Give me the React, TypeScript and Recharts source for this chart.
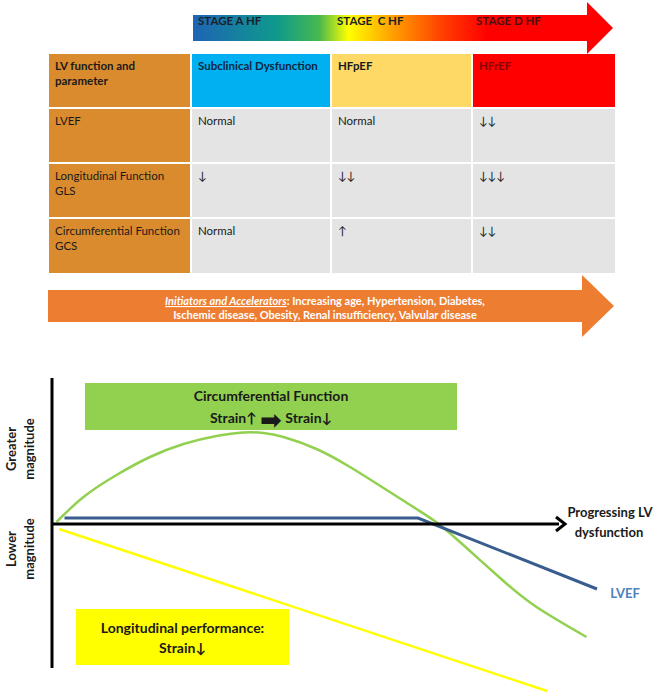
import { LineChart, Line, XAxis, YAxis, ReferenceLine, ReferenceArea, Label } from 'recharts';

// top stage arrow + table
const stageLabels = ['STAGE A HF', 'STAGE  C HF', 'STAGE D HF'];
const headerLines = [['LV function and', 'parameter'], ['Subclinical Dysfunction'], ['HFpEF'], ['HFrEF']];
const parameterLines = [['LVEF'], ['Longitudinal Function', 'GLS'], ['Circumferential Function', 'GCS']];
const stageValues = [
  ['Normal', 'Normal', '↓↓'],
  ['↓', '↓↓', '↓↓↓'],
  ['Normal', '↑', '↓↓'],
];
const initiatorTitle = 'Initiators and Accelerators';
const initiatorLines = [
  'Increasing age, Hypertension, Diabetes,',
  'Ischemic disease, Obesity, Renal insufficiency, Valvular disease',
];

// lower chart: x = progression of LV dysfunction, y = magnitude
const circX = [0.9, 6.3, 12.9, 19.6, 26.3, 32.9, 38.3, 42.3, 46.3, 52.9, 59.6, 66.3, 72.9, 77.6, 83.6, 90.3, 96.9, 106.9];
const circY = [2, 27, 49, 67, 80, 88, 91.5, 91, 87, 75, 57, 36, 15, -1, -27, -57, -83, -113];
const lvefX = [2.5, 73.2, 109];
const lvefY = [6, 6, -65];
const longX = [1.4, 99];
const longY = [-5, -167];

const toPoints = (xs: number[], ys: number[]) => xs.map((x, i) => ({ x, y: ys[i] }));

const FONT = "Lato, 'DejaVu Sans', sans-serif";
const colEdges = [48, 191, 331, 472, 616];
const rowEdges = [53, 108, 163, 218, 274];
const headerBg = ['#da8b2e', '#00b0f0', '#ffd966', '#ff0000'];
const headerColor = ['#1a1a1a', '#10243f', '#1a1a1a', '#8a0000'];

const XArrow = (props: any) => {
  const { x1, y1, x2, y2 } = props;
  return (
    <g>
      <line x1={x1} y1={y1} x2={x2 - 6} y2={y2} stroke="#000" strokeWidth={3} />
      <polyline points={`${x2 - 9},${y2 - 7} ${x2},${y2} ${x2 - 9},${y2 + 7}`} fill="none" stroke="#000" strokeWidth={3} />
    </g>
  );
};

const boxText = (lines: string[], size: number, gap: number) => (props: any) => {
  const { x, y, width, height } = props.viewBox;
  const cx = x + width / 2;
  const start = y + height / 2 - ((lines.length - 1) * gap) / 2;
  return (
    <text x={cx} textAnchor="middle" fontFamily={FONT} fontWeight="bold" fontSize={size} fill="#1a1a1a">
      {lines.map((l, i) => (
        <tspan key={i} x={cx} y={start + i * gap} dominantBaseline="central">
          {l.split('➡').map((part, j) =>
            j === 0 ? part : [<tspan key={j} fontSize={26} dy={1}>➡</tspan>, <tspan key={`p${j}`} fontSize={size} dy={-1}>{part}</tspan>]
          )}
        </tspan>
      ))}
    </text>
  );
};

function Table() {
  const cells: any[] = [];
  for (let r = 0; r < 4; r++) {
    for (let c = 0; c < 4; c++) {
      let lines: string[];
      let bg = '#e4e4e4';
      let color = '#1a1a1a';
      let bold = false;
      if (r === 0) {
        lines = headerLines[c];
        bg = headerBg[c];
        color = headerColor[c];
        bold = true;
      } else if (c === 0) {
        lines = parameterLines[r - 1];
        bg = '#da8b2e';
      } else {
        lines = [stageValues[r - 1][c - 1]];
      }
      cells.push(
        <div
          key={`${r}-${c}`}
          style={{
            position: 'absolute',
            left: colEdges[c] + 1,
            top: rowEdges[r] + 1,
            width: colEdges[c + 1] - colEdges[c] - 2,
            height: rowEdges[r + 1] - rowEdges[r] - 2,
            background: bg,
            color,
            fontWeight: bold ? 'bold' : 'normal',
            fontSize: 11.5,
            lineHeight: '15px',
            padding: '4px 0 0 6px',
            boxSizing: 'border-box',
            fontFamily: FONT,
          }}
        >
          {lines.map((l, i) => (
            <div key={i}>{l}</div>
          ))}
        </div>
      );
    }
  }
  return <>{cells}</>;
}

export default function App() {
  return (
    <div style={{ position: 'relative', width: 667, height: 694, background: '#fff', overflow: 'hidden' }}>
      <style>{'body{margin:0}'}</style>
      <svg width={667} height={694} style={{ position: 'absolute', left: 0, top: 0 }}>
        <defs>
          <linearGradient id="stage" x1={193} x2={613} y1={0} y2={0} gradientUnits="userSpaceOnUse">
            <stop offset="0" stopColor="#1e64b4" />
            <stop offset="0.2" stopColor="#0e9a8c" />
            <stop offset="0.3" stopColor="#48b84e" />
            <stop offset="0.37" stopColor="#ffff00" />
            <stop offset="0.47" stopColor="#ffa400" />
            <stop offset="0.6" stopColor="#ff3a00" />
            <stop offset="0.7" stopColor="#ff0000" />
            <stop offset="1" stopColor="#ff0000" />
          </linearGradient>
        </defs>
        <polygon points="193,15 587,15 587,2 613,28 587,54 587,41 193,41" fill="url(#stage)" />
        {stageLabels.map((s, i) => (
          <text
            key={s}
            x={[198, 337, 476][i]}
            y={25}
            fontFamily={FONT}
            fontWeight="bold"
            fontSize={11.5}
            fill={i === 2 ? '#4a1010' : '#1a1f2a'}
            style={{ whiteSpace: 'pre' }}
          >
            {s}
          </text>
        ))}
        <polygon points="48,290 582,290 582,275 614,306 582,337 582,322 48,322" fill="#ed7d31" />
        <text x={325} y={305} textAnchor="middle" fontFamily={FONT} fontWeight="bold" fontSize={11} fill="#fff">
          <tspan fontStyle="italic" style={{ textDecoration: 'underline' }}>{initiatorTitle}</tspan>
          <tspan>{': ' + initiatorLines[0]}</tspan>
        </text>
        <text x={325} y={319} textAnchor="middle" fontFamily={FONT} fontWeight="bold" fontSize={11} fill="#fff">
          {initiatorLines[1]}
        </text>
      </svg>
      <Table />
      <div style={{ position: 'absolute', left: 0, top: 360 }}>
        <LineChart width={667} height={334} margin={{ top: 18, right: 65, bottom: 0, left: 52 }}>
          <XAxis type="number" dataKey="x" domain={[0, 110]} allowDataOverflow hide />
          <YAxis type="number" dataKey="y" domain={[-170, 146]} allowDataOverflow hide />
          <ReferenceArea x1={6.6} x2={81} y1={94} y2={141} fill="#92d050" fillOpacity={1} stroke="none">
            <Label content={boxText(['Circumferential Function', 'Strain↑ ➡ Strain↓'], 14, 22)} />
          </ReferenceArea>
          <ReferenceArea x1={4.8} x2={47.4} y1={-141} y2={-85} fill="#ffff00" fillOpacity={1} stroke="none">
            <Label content={boxText(['Longitudinal performance:', 'Strain↓'], 14, 20)} />
          </ReferenceArea>
          <Line data={toPoints(circX, circY)} dataKey="y" type="natural" stroke="#92d050" strokeWidth={2.5} dot={false} isAnimationActive={false} />
          <Line data={toPoints(lvefX, lvefY)} dataKey="y" type="linear" stroke="#3a5d8f" strokeWidth={3} dot={false} isAnimationActive={false} />
          <Line data={toPoints(longX, longY)} dataKey="y" type="linear" stroke="#ffff00" strokeWidth={2.5} dot={false} isAnimationActive={false} />
          <ReferenceLine segment={[{ x: 0, y: 0 }, { x: 102.6, y: 0 }]} shape={XArrow} />
          <ReferenceLine segment={[{ x: 0, y: 146 }, { x: 0, y: -144 }]} stroke="#000" strokeWidth={3} />
        </LineChart>
      </div>
      <svg width={667} height={694} style={{ position: 'absolute', left: 0, top: 0, pointerEvents: 'none' }}>
        <g fontFamily={FONT} fontWeight="bold" fontSize={13} fill="#1a1a1a" textAnchor="middle">
          <text transform="translate(11,449) rotate(-90)" dominantBaseline="central">Greater</text>
          <text transform="translate(29,449) rotate(-90)" dominantBaseline="central">magnitude</text>
          <text transform="translate(11,549) rotate(-90)" dominantBaseline="central">Lower</text>
          <text transform="translate(29,549) rotate(-90)" dominantBaseline="central">magnitude</text>
          <text x={610} y={512} dominantBaseline="central">Progressing LV</text>
          <text x={609} y={532} dominantBaseline="central">dysfunction</text>
          <text x={625} y={593} dominantBaseline="central" fill="#4f81bd">LVEF</text>
        </g>
      </svg>
    </div>
  );
}
